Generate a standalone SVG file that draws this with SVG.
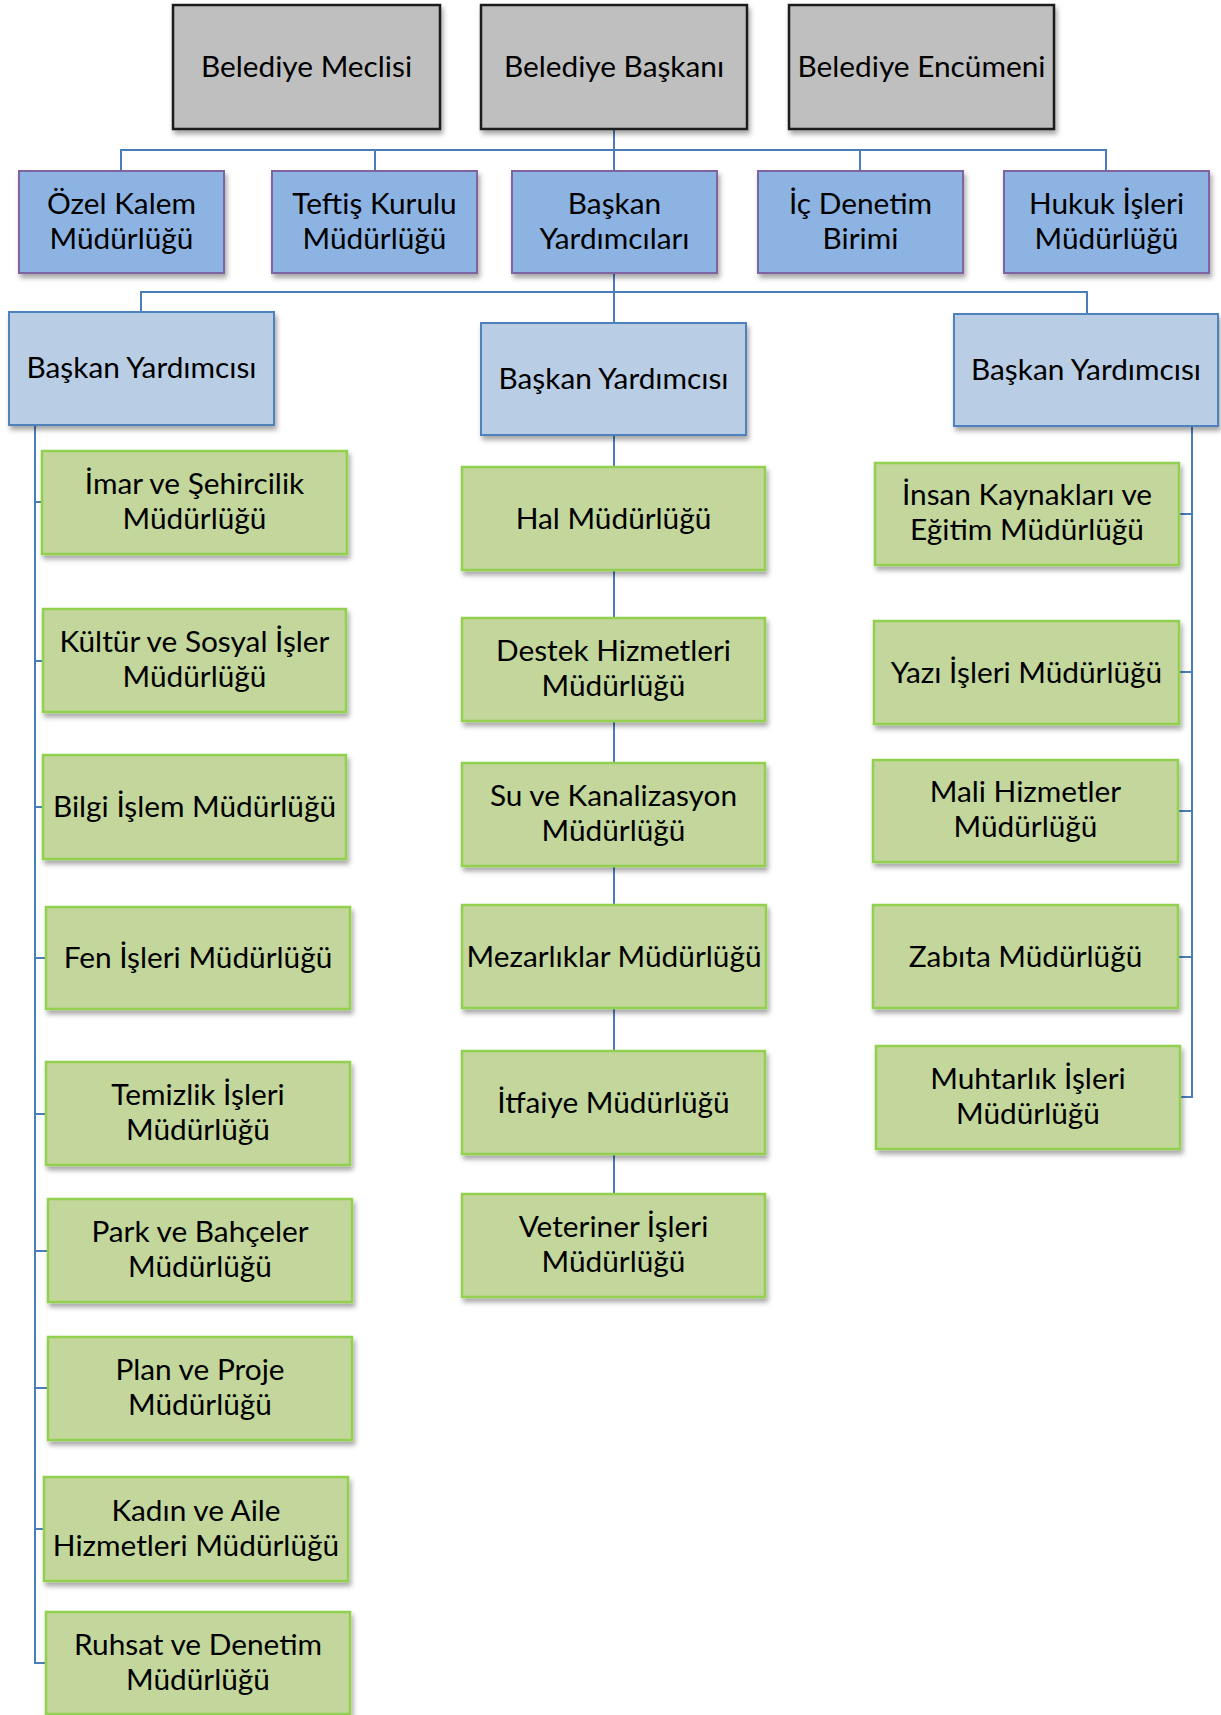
<svg xmlns="http://www.w3.org/2000/svg" width="1221" height="1715" viewBox="0 0 1221 1715">
<style>
.t{font-family:Lato,"Carlito","Liberation Sans",sans-serif;font-size:29.8px;fill:#000;text-anchor:middle}
.g{fill:#BFBFBF;stroke:#1A1A1A;stroke-width:2.5}
.b{fill:#8DB3E2;stroke:#8064A2;stroke-width:2}
.l{fill:#B9CDE5;stroke:#4F81BD;stroke-width:2}
.n{fill:#C3D69B;stroke:#92D050;stroke-width:2.5}
.c{fill:none;stroke:#4A7EBB;stroke-width:2}
</style>
<defs>
<filter id="sh" x="-10%" y="-10%" width="130%" height="140%">
<feDropShadow dx="2" dy="4" stdDeviation="2.5" flood-color="#000" flood-opacity="0.35"/>
</filter>
</defs>
<rect width="1221" height="1715" fill="#fff"/>
<g id="connectors" class="c">
<path d="M614 129V171M121 171V150H1106V171M375 150V171M860 150V171"/>
<path d="M614 273V323M141 312V292H1087V314"/>
<path d="M614 435V1194"/>
<path d="M35 425V1663H46M35 502H42M35 661H43M35 807H43M35 958H46M35 1114H46M35 1251H48M35 1388H48M35 1529H44"/>
<path d="M1192 426V1097H1180M1179 514H1192M1179 672H1192M1178 811H1192M1178 957H1192"/>
</g>
<g id="meclis"><rect class="g" filter="url(#sh)" x="173" y="5" width="267" height="124"/><text class="t" x="306.5" y="77">Belediye Meclisi</text></g>
<g id="baskan"><rect class="g" filter="url(#sh)" x="481" y="5" width="266" height="124"/><text class="t" x="614" y="77">Belediye Başkanı</text></g>
<g id="encumen"><rect class="g" filter="url(#sh)" x="789" y="5" width="265" height="124"/><text class="t" x="921.5" y="77">Belediye Encümeni</text></g>

<g id="ozelkalem"><rect class="b" filter="url(#sh)" x="19" y="171" width="205" height="102"/><text class="t" x="121.5" y="214">Özel Kalem<tspan x="121.5" y="249">Müdürlüğü</tspan></text></g>
<g id="teftis"><rect class="b" filter="url(#sh)" x="272" y="171" width="205" height="102"/><text class="t" x="374.5" y="214">Teftiş Kurulu<tspan x="374.5" y="249">Müdürlüğü</tspan></text></g>
<g id="baskanyrd"><rect class="b" filter="url(#sh)" x="512" y="171" width="205" height="102"/><text class="t" x="614.5" y="214">Başkan<tspan x="614.5" y="249">Yardımcıları</tspan></text></g>
<g id="icdenetim"><rect class="b" filter="url(#sh)" x="758" y="171" width="205" height="102"/><text class="t" x="860.5" y="214">İç Denetim<tspan x="860.5" y="249">Birimi</tspan></text></g>
<g id="hukuk"><rect class="b" filter="url(#sh)" x="1004" y="171" width="205" height="102"/><text class="t" x="1106.5" y="214">Hukuk İşleri<tspan x="1106.5" y="249">Müdürlüğü</tspan></text></g>

<g id="by1"><rect class="l" filter="url(#sh)" x="9" y="312" width="265" height="113"/><text class="t" x="141.5" y="378">Başkan Yardımcısı</text></g>
<g id="by2"><rect class="l" filter="url(#sh)" x="481" y="323" width="265" height="112"/><text class="t" x="613.5" y="389">Başkan Yardımcısı</text></g>
<g id="by3"><rect class="l" filter="url(#sh)" x="954" y="314" width="264" height="112"/><text class="t" x="1086" y="380">Başkan Yardımcısı</text></g>

<g id="imar"><rect class="n" filter="url(#sh)" x="42" y="451" width="305" height="103"/><text class="t" x="194.5" y="494">İmar ve Şehircilik<tspan x="194.5" y="529">Müdürlüğü</tspan></text></g>
<g id="kultur"><rect class="n" filter="url(#sh)" x="43" y="609" width="303" height="103"/><text class="t" x="194.5" y="652">Kültür ve Sosyal İşler<tspan x="194.5" y="687">Müdürlüğü</tspan></text></g>
<g id="bilgi"><rect class="n" filter="url(#sh)" x="43" y="755" width="303" height="104"/><text class="t" x="194.5" y="817">Bilgi İşlem Müdürlüğü</text></g>
<g id="fen"><rect class="n" filter="url(#sh)" x="46" y="907" width="304" height="102"/><text class="t" x="198" y="968">Fen İşleri Müdürlüğü</text></g>
<g id="temizlik"><rect class="n" filter="url(#sh)" x="46" y="1062" width="304" height="103"/><text class="t" x="198" y="1105">Temizlik İşleri<tspan x="198" y="1140">Müdürlüğü</tspan></text></g>
<g id="park"><rect class="n" filter="url(#sh)" x="48" y="1199" width="304" height="103"/><text class="t" x="200" y="1242">Park ve Bahçeler<tspan x="200" y="1277">Müdürlüğü</tspan></text></g>
<g id="plan"><rect class="n" filter="url(#sh)" x="48" y="1337" width="304" height="103"/><text class="t" x="200" y="1380">Plan ve Proje<tspan x="200" y="1415">Müdürlüğü</tspan></text></g>
<g id="kadin"><rect class="n" filter="url(#sh)" x="44" y="1477" width="304" height="104"/><text class="t" x="196" y="1521">Kadın ve Aile<tspan x="196" y="1556">Hizmetleri Müdürlüğü</tspan></text></g>
<g id="ruhsat"><rect class="n" filter="url(#sh)" x="46" y="1612" width="304" height="102"/><text class="t" x="198" y="1655">Ruhsat ve Denetim<tspan x="198" y="1690">Müdürlüğü</tspan></text></g>

<g id="hal"><rect class="n" filter="url(#sh)" x="462" y="467" width="303" height="103"/><text class="t" x="613.5" y="529">Hal Müdürlüğü</text></g>
<g id="destek"><rect class="n" filter="url(#sh)" x="462" y="618" width="303" height="103"/><text class="t" x="613.5" y="661">Destek Hizmetleri<tspan x="613.5" y="696">Müdürlüğü</tspan></text></g>
<g id="su"><rect class="n" filter="url(#sh)" x="462" y="763" width="303" height="103"/><text class="t" x="613.5" y="806">Su ve Kanalizasyon<tspan x="613.5" y="841">Müdürlüğü</tspan></text></g>
<g id="mezarlik"><rect class="n" filter="url(#sh)" x="462" y="905" width="304" height="103"/><text class="t" x="614" y="967">Mezarlıklar Müdürlüğü</text></g>
<g id="itfaiye"><rect class="n" filter="url(#sh)" x="462" y="1051" width="303" height="103"/><text class="t" x="613.5" y="1113">İtfaiye Müdürlüğü</text></g>
<g id="veteriner"><rect class="n" filter="url(#sh)" x="462" y="1194" width="303" height="103"/><text class="t" x="613.5" y="1237">Veteriner İşleri<tspan x="613.5" y="1272">Müdürlüğü</tspan></text></g>

<g id="insan"><rect class="n" filter="url(#sh)" x="875" y="463" width="304" height="102"/><text class="t" x="1027" y="505">İnsan Kaynakları ve<tspan x="1027" y="540">Eğitim Müdürlüğü</tspan></text></g>
<g id="yazi"><rect class="n" filter="url(#sh)" x="874" y="621" width="305" height="103"/><text class="t" x="1026.5" y="683">Yazı İşleri Müdürlüğü</text></g>
<g id="mali"><rect class="n" filter="url(#sh)" x="873" y="760" width="305" height="102"/><text class="t" x="1025.5" y="802">Mali Hizmetler<tspan x="1025.5" y="837">Müdürlüğü</tspan></text></g>
<g id="zabita"><rect class="n" filter="url(#sh)" x="873" y="905" width="305" height="103"/><text class="t" x="1025.5" y="967">Zabıta Müdürlüğü</text></g>
<g id="muhtarlik"><rect class="n" filter="url(#sh)" x="876" y="1046" width="304" height="103"/><text class="t" x="1028" y="1089">Muhtarlık İşleri<tspan x="1028" y="1124">Müdürlüğü</tspan></text></g>
</svg>
